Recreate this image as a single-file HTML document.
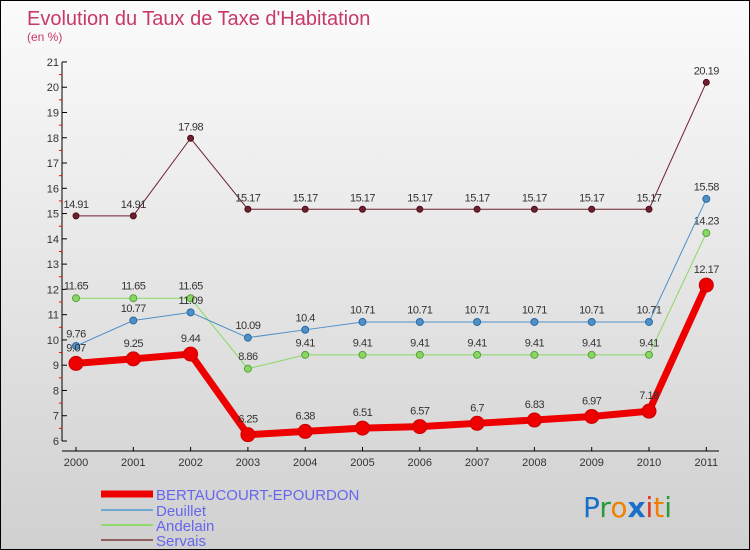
<!DOCTYPE html>
<html><head><meta charset="utf-8"><style>
body{margin:0}
#c{width:748px;height:548px;border:1px solid #000;background:linear-gradient(#fbfbfb,#d0d0d0);position:relative;font-family:"Liberation Sans",sans-serif}
</style></head><body>
<div id="c">
<svg id="s" width="748" height="548" style="position:absolute;left:0;top:0" font-family="Liberation Sans, sans-serif">
<text x="26" y="24" font-size="20" fill="#c8386a">Evolution du Taux de Taxe d'Habitation</text>
<text x="26" y="40" font-size="12" fill="#c8386a">(en %)</text>
<g id="ax"></g><g id="ser"></g>
<g font-size="28" font-family="DejaVu Sans, sans-serif">
<text x="582" y="516"><tspan fill="#1a70c8">P</tspan><tspan fill="#2a9a3a">r</tspan><tspan fill="#f08000">o</tspan><tspan fill="#1a70c8" font-weight="bold">x</tspan><tspan fill="#e03020">i</tspan><tspan fill="#f08000">t</tspan><tspan fill="#2a9a3a">i</tspan></text></g>
</svg></div>
<script>
const years=["2000","2001","2002","2003","2004","2005","2006","2007","2008","2009","2010","2011"];
const yTicks=[6,7,8,9,10,11,12,13,14,15,16,17,18,19,20,21];
const bert=[9.07,9.25,9.44,6.25,6.38,6.51,6.57,6.7,6.83,6.97,7.18,12.17];
const deuillet=[9.76,10.77,11.09,10.09,10.4,10.71,10.71,10.71,10.71,10.71,10.71,15.58];
const andelain=[11.65,11.65,11.65,8.86,9.41,9.41,9.41,9.41,9.41,9.41,9.41,14.23];
const servais=[14.91,14.91,17.98,15.17,15.17,15.17,15.17,15.17,15.17,15.17,15.17,20.19];
const NS="http://www.w3.org/2000/svg";
const X=i=>75+i*57.3, Y=v=>440-(v-6)*25.27;
function el(t,a,p){const e=document.createElementNS(NS,t);for(const k in a)e.setAttribute(k,a[k]);p.appendChild(e);return e;}
const ax=document.getElementById('ax'), sg=document.getElementById('ser');
let l=el('line',{x1:61,y1:Y(21),x2:61,y2:Y(6),stroke:'#000'},ax);


l=el('line',{x1:61,y1:450,x2:718,y2:450,stroke:'#000'},ax);


yTicks.forEach(v=>{
  el('line',{x1:61,x2:66,y1:Y(v),y2:Y(v),stroke:'#000'},ax);
  if(v<21)el('line',{x1:58,x2:61,y1:Y(v+0.5),y2:Y(v+0.5),stroke:'#f00'},ax);
  const t=el('text',{x:58,y:Y(v)+4,'font-size':11,fill:'#333','text-anchor':'end'},ax);
  t.textContent=v;
  
  
});
years.forEach((y,i)=>{
  el('line',{x1:X(i),x2:X(i),y1:446,y2:450,stroke:'#000'},ax);
  const t=el('text',{x:X(i),y:465,'font-size':11,fill:'#333','text-anchor':'middle'},ax);
  t.textContent=y;
  
  
});
function series(d,col,w,r,name,lc){
  const g=el('g',{},sg);
  
  
  el('polyline',{points:d.map((v,i)=>X(i)+','+Y(v)).join(' '),fill:'none',stroke:col,'stroke-width':w,'stroke-linejoin':'round'},g);
  d.forEach((v,i)=>{
    const c=el('circle',{cx:X(i),cy:Y(v),r:r,fill:col,stroke:lc,'stroke-width':1},g);
    
    
    const t=el('text',{x:X(i),y:Y(v)-r-5,'font-size':11,fill:'#333','text-anchor':'middle','letter-spacing':'-0.5'},g);
    t.textContent=v;
  });
}
series(servais,'#6e2030',1,3,'series-servais','#4a1018');
series(andelain,'#88d860',1,3.5,'series-andelain','#5aa040');
series(deuillet,'#5090c8',1,3.5,'series-deuillet','#2a6aa0');
series(bert,'#ee0000',7,7,'series-bertaucourt','#c00');
const leg=[["BERTAUCOURT-EPOURDON","#ee0000",7,493],["Deuillet","#70a8d0",2,509],["Andelain","#90d870",2,524],["Servais","#906060",2,539]];
leg.forEach(([n,c,w,y])=>{
  const g=el('g',{},sg);
  
  
  el('line',{x1:100,x2:152,y1:y,y2:y,stroke:c,'stroke-width':w},g);
  const t=el('text',{x:155,y:y+6,'font-size':15,fill:'#6666ee'},g);
  t.textContent=n;
});
</script>
</body></html>
